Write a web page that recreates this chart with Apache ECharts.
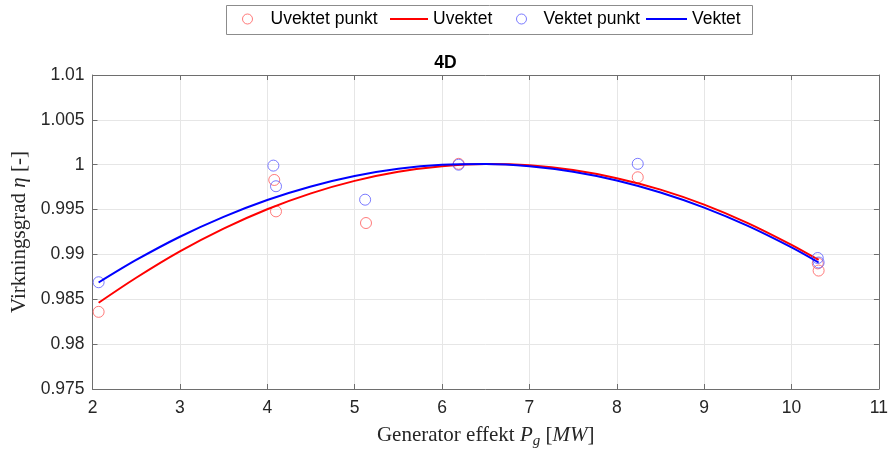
<!DOCTYPE html>
<html>
<head>
<meta charset="utf-8">
<script src="https://cdn.jsdelivr.net/npm/echarts@6/dist/echarts.min.js"></script>
<style>html,body{margin:0;padding:0;background:#fff;}#c{width:891px;height:454px;}</style>
</head>
<body>
<div id="c"></div>
<script>
// ---- Data ----
const titleText = '4D';
const legendNames = ['Uvektet punkt', 'Uvektet', 'Vektet punkt', 'Vektet'];
const xTicks = [2, 3, 4, 5, 6, 7, 8, 9, 10, 11];
const yTicks = [0.975, 0.98, 0.985, 0.99, 0.995, 1, 1.005, 1.01];

// measured points (x = generator power MW, y = efficiency)
const uvektetPunktX = [2.07, 4.08, 4.10, 5.13, 6.19, 8.24, 10.30, 10.31];
const uvektetPunktY = [0.9836, 0.9983, 0.9948, 0.9935, 1.0001, 0.9986, 0.9890, 0.9882];
const vektetPunktX  = [2.07, 4.07, 4.10, 5.12, 6.19, 8.24, 10.30, 10.31];
const vektetPunktY  = [0.9869, 0.9999, 0.9976, 0.9961, 1.0000, 1.0001, 0.9896, 0.9891];

// fitted curves at sample positions
const curveX       = [2.07, 2.5, 3, 3.5, 4, 4.5, 5, 5.5, 6, 6.5, 7, 7.5, 8, 8.5, 9, 9.5, 10, 10.31];
const uvektetCurve = [0.98461, 0.98740, 0.99034, 0.99288, 0.99504, 0.99681, 0.99820, 0.99921, 0.99983, 1.00007, 0.99993, 0.99941, 0.99850, 0.99722, 0.99555, 0.99349, 0.99106, 0.98938];
const vektetCurve  = [0.98687, 0.98938, 0.99197, 0.99419, 0.99607, 0.99758, 0.99875, 0.99955, 1.00000, 1.00009, 0.99983, 0.99921, 0.99824, 0.99690, 0.99522, 0.99318, 0.99078, 0.98910];

const zip = (a, b) => a.map((v, i) => [v, b[i]]);

const sans = "'Liberation Sans', Arial, Helvetica, sans-serif";
const serif = "'Liberation Serif', 'Times New Roman', serif";
const axisCol = '#6e6e6e';
const tickFont = 17.5;

const chart = echarts.init(document.getElementById('c'), null, {renderer: 'canvas'});

function legendItem(name, left, icon, w, h, color, isLine, textPad) {
  return {
    show: true,
    left: left, top: 10,
    orient: 'horizontal',
    padding: 0,
    itemWidth: w, itemHeight: h,
    itemGap: 0,
    selectedMode: false,
    data: [{name: name, icon: icon,
      itemStyle: isLine ? {color: color, borderWidth: 0} : {color: 'rgba(0,0,0,0)', borderColor: color, borderWidth: 1}}],
    textStyle: {fontFamily: sans, fontSize: tickFont, color: '#000', padding: [0, 0, 0, textPad]}
  };
}

const option = {
  animation: false,
  backgroundColor: '#fff',
  title: {
    text: titleText, left: 'center', top: 49,
    textStyle: {fontFamily: sans, fontSize: 17.5, fontWeight: 'bold', color: '#000'}
  },
  legend: [
    legendItem(legendNames[0], 242, 'circle', 10, 10, '#ff5a5a', false, 13),
    legendItem(legendNames[1], 390, 'rect', 38, 2, '#ff0000', true, 0),
    legendItem(legendNames[2], 516, 'circle', 10, 10, '#5a5aff', false, 12),
    legendItem(legendNames[3], 646, 'rect', 41, 2, '#0000ff', true, 0)
  ],
  graphic: [{
    type: 'rect', left: 224, top: 3,
    shape: {width: 526, height: 29},
    style: {fill: 'none', stroke: '#8c8c8c', lineWidth: 1}, silent: true
  }],
  grid: {left: 92.5, right: 12, top: 75, bottom: 60.5, containLabel: false},
  xAxis: [{
    type: 'value', min: xTicks[0], max: xTicks[xTicks.length - 1], interval: 1,
    name: '{n|Generator effekt }{i|P}{s|g}{n| [}{i|MW}{n|]}',
    nameLocation: 'middle', nameGap: 33,
    nameTextStyle: {
      rich: {
        n: {fontFamily: serif, fontSize: 21, color: '#262626'},
        i: {fontFamily: serif, fontSize: 21, fontStyle: 'italic', color: '#262626'},
        s: {fontFamily: serif, fontSize: 15, fontStyle: 'italic', color: '#262626', padding: [12, 0, 0, 0]}
      }
    },
    axisLine: {show: true, onZero: false, lineStyle: {color: axisCol, width: 1}},
    axisTick: {show: true, inside: true, length: 5, lineStyle: {color: axisCol}},
    axisLabel: {fontFamily: sans, fontSize: tickFont, color: '#262626', margin: 10},
    splitLine: {show: true, lineStyle: {color: '#e6e6e6', width: 1}}
  }, {
    type: 'value', position: 'top', min: xTicks[0], max: xTicks[xTicks.length - 1], interval: 1,
    axisLine: {show: true, onZero: false, lineStyle: {color: axisCol, width: 1}},
    axisTick: {show: true, inside: true, length: 5, lineStyle: {color: axisCol}},
    axisLabel: {show: false}, splitLine: {show: false}
  }],
  yAxis: [{
    type: 'value', min: yTicks[0], max: yTicks[yTicks.length - 1], interval: 0.005,
    name: '{n|Virkningsgrad }{i|η}{n| [-]}',
    nameLocation: 'middle', nameGap: 59, nameRotate: 90,
    nameTextStyle: {
      rich: {
        n: {fontFamily: serif, fontSize: 21, color: '#262626'},
        i: {fontFamily: serif, fontSize: 21, fontStyle: 'italic', color: '#262626'}
      }
    },
    axisLine: {show: true, onZero: false, lineStyle: {color: axisCol, width: 1}},
    axisTick: {show: true, inside: true, length: 5, lineStyle: {color: axisCol}},
    axisLabel: {fontFamily: sans, fontSize: tickFont, color: '#262626', margin: 8,
      formatter: v => String(parseFloat(v.toFixed(3)))},
    splitLine: {show: true, lineStyle: {color: '#e6e6e6', width: 1}}
  }, {
    type: 'value', position: 'right', min: yTicks[0], max: yTicks[yTicks.length - 1], interval: 0.005,
    axisLine: {show: true, onZero: false, lineStyle: {color: axisCol, width: 1}},
    axisTick: {show: true, inside: true, length: 5, lineStyle: {color: axisCol}},
    axisLabel: {show: false}, splitLine: {show: false}
  }],
  series: [
    {name: legendNames[0], type: 'scatter', data: zip(uvektetPunktX, uvektetPunktY),
      symbol: 'circle', symbolSize: 11,
      itemStyle: {color: 'rgba(0,0,0,0)', borderColor: '#ff5a5a', borderWidth: 1}, z: 3},
    {name: legendNames[1], type: 'line', data: zip(curveX, uvektetCurve),
      showSymbol: false, smooth: 0.3, lineStyle: {color: '#ff0000', width: 2}, itemStyle: {color: '#ff0000'}, z: 4},
    {name: legendNames[2], type: 'scatter', data: zip(vektetPunktX, vektetPunktY),
      symbol: 'circle', symbolSize: 11,
      itemStyle: {color: 'rgba(0,0,0,0)', borderColor: '#5a5aff', borderWidth: 1}, z: 5},
    {name: legendNames[3], type: 'line', data: zip(curveX, vektetCurve),
      showSymbol: false, smooth: 0.3, lineStyle: {color: '#0000ff', width: 2}, itemStyle: {color: '#0000ff'}, z: 6}
  ]
};
chart.setOption(option);
</script>
</body>
</html>
